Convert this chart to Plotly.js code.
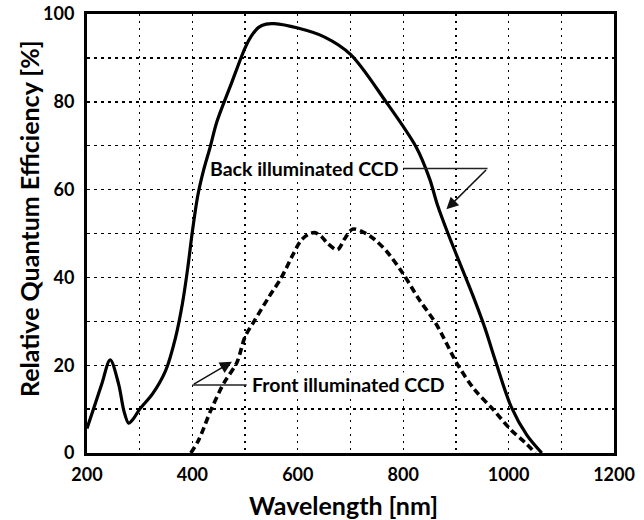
<!DOCTYPE html>
<html>
<head>
<meta charset="utf-8">
<script src="https://cdn.plot.ly/plotly-3.0.1.min.js"></script>
<style>html,body{margin:0;padding:0;background:#fff;}#chart{width:644px;height:520px;}</style>
</head>
<body>
<div id="chart"></div>
<script>
// Back illuminated CCD (solid)
const backWavelength = [200, 215, 228, 244, 260, 270, 279, 288, 300, 324, 349, 368, 381, 391, 400, 410, 421, 434, 446, 474, 500, 512, 525, 540, 555, 600, 650, 700, 765, 825, 850, 865, 885, 910, 935, 955, 975, 1005, 1035, 1063];
const backQE = [5.6, 11, 15.7, 21.2, 15.7, 9.6, 6.8, 7.8, 10, 13.4, 18.7, 26.3, 34, 42, 50.5, 58.5, 64.3, 69.8, 75.3, 84.2, 92.3, 95, 96.9, 97.7, 97.8, 96.8, 94.8, 90.8, 80.4, 69.6, 62.5, 56.5, 50, 42.5, 35, 28.5, 21, 10.5, 4, 0];

// Front illuminated CCD (dashed)
const frontWavelength = [397, 412, 436, 460, 484, 500, 517, 545, 569, 590, 606, 620, 632, 645, 657, 675, 689, 704, 726, 744, 768, 800, 830, 862, 904, 935, 970, 1005, 1030, 1051];
const frontQE = [0, 3, 10, 16, 20.5, 26.5, 30, 35.5, 40, 45, 48.4, 49.8, 50.2, 49.3, 47.7, 46.3, 48.8, 51, 50.2, 48.8, 46, 40.8, 35, 29.5, 20, 14.5, 10, 5.2, 2.5, 0];

const xTicks = [200, 400, 600, 800, 1000, 1200];
const yTicks = [0, 20, 40, 60, 80, 100];

const xTitle = 'Wavelength [nm]';
const yTitle = 'Relative Quantum Efficiency [%]';
const backLabel = 'Back illuminated CCD';
const frontLabel = 'Front illuminated CCD';

const FONT = 'Lato, "Open Sans", sans-serif';

const traces = [
  {x: backWavelength, y: backQE, mode: 'lines', line: {color: '#000', width: 3.2, shape: 'spline', smoothing: 0.9}, hoverinfo: 'skip', showlegend: false},
  {x: frontWavelength, y: frontQE, mode: 'lines', line: {color: '#000', width: 3.6, dash: '7px,4px', shape: 'spline', smoothing: 0.9}, hoverinfo: 'skip', showlegend: false}
];

const gridCommon = {gridcolor: '#000', gridwidth: 1.4};

const layout = {
  width: 644, height: 520,
  margin: {l: 87, r: 30, t: 14, b: 67},
  paper_bgcolor: '#fff', plot_bgcolor: '#fff',
  font: {family: FONT, color: '#000'},
  xaxis: Object.assign({
    range: [200, 1200], tickvals: xTicks, ticktext: xTicks.map(String),
    showline: true, mirror: true, linecolor: '#000', linewidth: 3,
    showgrid: true, griddash: '2px,5px',
    minor: Object.assign({dtick: 100, tick0: 200, showgrid: true, griddash: '2px,5px'}, gridCommon),
    zeroline: false, ticks: '', ticklabelstandoff: 3,
    tickfont: {family: FONT, size: 18, weight: 'bold'}
  }, gridCommon),
  yaxis: Object.assign({
    range: [0, 100], tickvals: yTicks, ticktext: yTicks.map(String),
    showline: true, mirror: true, linecolor: '#000', linewidth: 3,
    showgrid: true, griddash: '3px,4px',
    minor: Object.assign({dtick: 10, tick0: 0, showgrid: true, griddash: '3px,4px'}, gridCommon),
    zeroline: false, ticks: '', ticklabelstandoff: 6,
    tickfont: {family: FONT, size: 18, weight: 'bold'}
  }, gridCommon),
  shapes: [
    {type: 'line', xref: 'x', yref: 'y', x0: 800, x1: 960, y0: 64.8, y1: 64.8, line: {color: '#222', width: 1.6}},
    {type: 'line', xref: 'x', yref: 'y', x0: 400, x1: 503, y0: 15.5, y1: 15.5, line: {color: '#222', width: 1.6}}
  ],
  annotations: [
    {xref: 'paper', yref: 'paper', x: 0.487, y: -0.118, xanchor: 'center', yanchor: 'middle', text: '<b>' + xTitle + '</b>', showarrow: false, font: {family: FONT, size: 25}},
    {xref: 'paper', yref: 'paper', x: -0.110, y: 0.533, xanchor: 'center', yanchor: 'middle', textangle: -90, text: '<b>' + yTitle + '</b>', showarrow: false, font: {family: FONT, size: 25}},
    {x: 612, y: 64.8, xref: 'x', yref: 'y', text: '<b>' + backLabel + '</b>', showarrow: false, font: {family: FONT, size: 19.5}, bgcolor: '#fff', borderpad: 0},
    {x: 882, y: 55.5, xref: 'x', yref: 'y', ax: 960, ay: 64.8, axref: 'x', ayref: 'y', text: '', showarrow: true, arrowhead: 2, arrowsize: 1.6, arrowwidth: 1.5, arrowcolor: '#111'},
    {x: 697, y: 15.5, xref: 'x', yref: 'y', text: '<b>' + frontLabel + '</b>', showarrow: false, font: {family: FONT, size: 19.5}, bgcolor: '#fff', borderpad: 0},
    {x: 475, y: 20.8, xref: 'x', yref: 'y', ax: 400, ay: 15.5, axref: 'x', ayref: 'y', text: '', showarrow: true, arrowhead: 2, arrowsize: 1.6, arrowwidth: 1.5, arrowcolor: '#111'}
  ]
};

Plotly.newPlot('chart', traces, layout, {staticPlot: true, displayModeBar: false});
</script>
</body>
</html>
